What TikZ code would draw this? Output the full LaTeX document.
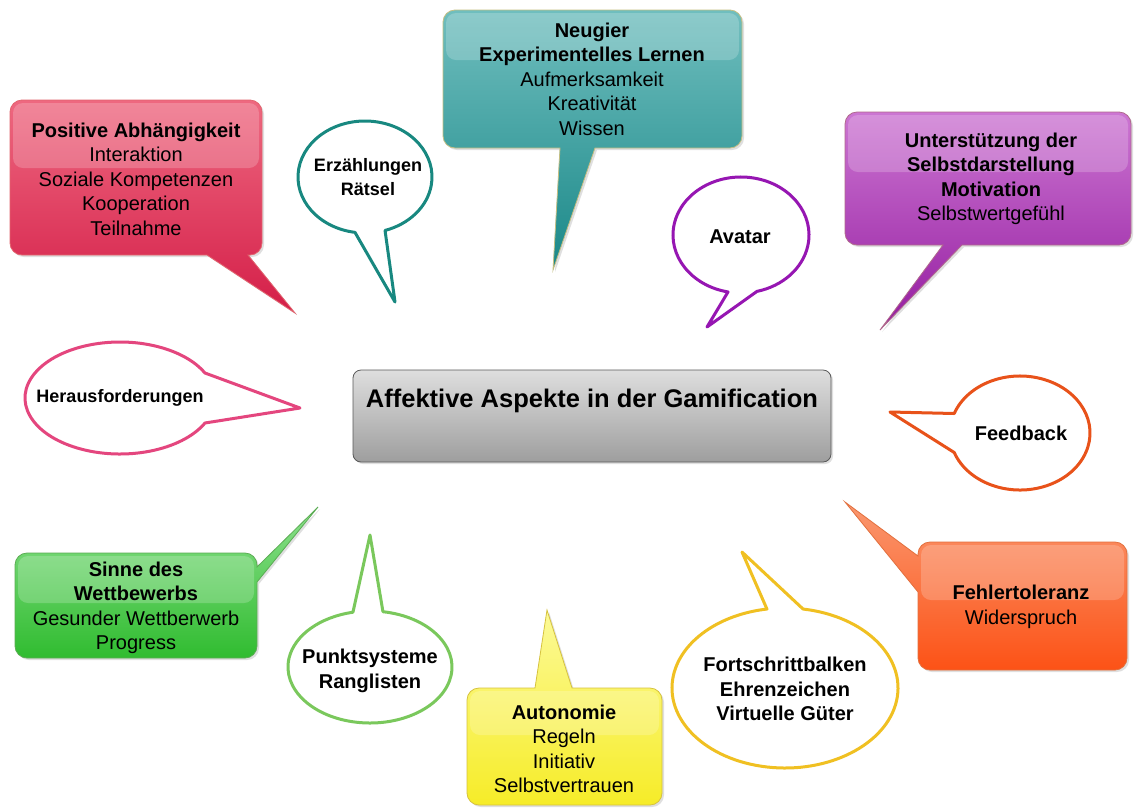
\documentclass[tikz,border=0pt]{standalone}
\usepackage{fontspec}
\setmainfont{Liberation Sans}
\usetikzlibrary{shadows}

\definecolor{redA}{RGB}{238,104,128}
\definecolor{redB}{RGB}{212,30,72}
\definecolor{redL}{RGB}{226,100,110}
\definecolor{tealA}{RGB}{112,190,190}
\definecolor{tealB}{RGB}{26,136,136}
\definecolor{tealL}{RGB}{196,190,130}
\definecolor{purA}{RGB}{204,118,210}
\definecolor{purB}{RGB}{148,28,160}
\definecolor{purL}{RGB}{176,106,140}
\definecolor{grnA}{RGB}{140,224,140}
\definecolor{grnB}{RGB}{48,188,48}
\definecolor{grnL}{RGB}{92,172,84}
\definecolor{orgA}{RGB}{250,152,112}
\definecolor{orgB}{RGB}{252,82,22}
\definecolor{orgL}{RGB}{226,112,62}
\definecolor{yelA}{RGB}{252,250,152}
\definecolor{yelB}{RGB}{246,236,40}
\definecolor{yelL}{RGB}{214,194,62}
\definecolor{gryA}{RGB}{222,222,222}
\definecolor{gryB}{RGB}{158,158,158}
\definecolor{tealline}{RGB}{24,136,128}
\definecolor{purline}{RGB}{150,22,178}
\definecolor{pinkline}{RGB}{228,70,126}
\definecolor{orgline}{RGB}{232,82,26}
\definecolor{grnline}{RGB}{122,200,92}
\definecolor{goldline}{RGB}{240,192,34}

\begin{document}
\begin{tikzpicture}[x=1pt,y=-1pt,
  box/.style={draw=#1,line width=.8pt,drop shadow={opacity=.25,shadow xshift=2pt,shadow yshift=-2pt}},
  gloss/.style={fill=white,opacity=.2,rounded corners=10pt},
  bub/.style={draw=#1,line width=3pt,fill=white,line join=round},
  txt/.style={align=center,font=\fontsize{20}{24.5}\selectfont},
  btxt/.style={align=center,font=\bfseries\fontsize{#1}{24.5}\selectfont},
  btxt/.default=20]
\useasboundingbox (0,0) rectangle (1136,807);
\fill[white] (0,0) rectangle (1136,807);

% centre
\path[box=black!65,top color=gryA,bottom color=gryB,rounded corners=8pt] (353,370) rectangle (831,462);
\node[font=\bfseries\fontsize{25.5}{30}\selectfont] (title) at (592,401) {Affektive Aspekte in der Gamification};

% filled boxes
\path[box=redL,top color=redA,bottom color=redB] (10,177) [rounded corners=12pt] -- (10,100) -- (262,100) -- (262,255) [sharp corners] -- (248,255) -- (295,313) -- (207,255) [rounded corners=12pt] -- (10,255) -- cycle;
\fill[gloss] (13,103) rectangle (259,168);
\node[txt] (abh) at (136,179) {\textbf{Positive Abhängigkeit}\\Interaktion\\Soziale Kompetenzen\\Kooperation\\Teilnahme};

\path[box=tealL,top color=tealA,bottom color=tealB] (443,79) [rounded corners=12pt] -- (443,10) -- (742,10) -- (742,148) [sharp corners] -- (595,148) -- (553,270) -- (560,148) [rounded corners=12pt] -- (443,148) -- cycle;
\fill[gloss] (446,13) rectangle (739,60);
\node[txt] (neu) at (592,79) {\textbf{Neugier}\\\textbf{Experimentelles Lernen}\\Aufmerksamkeit\\Kreativität\\Wissen};

\path[box=purL,top color=purA,bottom color=purB] (845,178) [rounded corners=12pt] -- (845,112) -- (1131,112) -- (1131,245) [sharp corners] -- (962,245) -- (880,330) -- (943,245) [rounded corners=12pt] -- (845,245) -- cycle;
\fill[gloss] (848,115) rectangle (1128,172);
\node[txt] (sel) at (991,179) {\textbf{Unterstützung der}\\\textbf{Selbstdarstellung}\\\textbf{Motivation}\\Selbstwertgefühl};

\path[box=grnL,top color=grnA,bottom color=grnB] (15,605) [rounded corners=12pt] -- (15,553) -- (257,553) [sharp corners] -- (257,567) -- (318,507) -- (257,582) [rounded corners=12pt] -- (257,658) -- (15,658) -- cycle;
\fill[gloss] (18,556) rectangle (254,603);
\node[txt] (wet) at (136,608) {\textbf{Sinne des}\\\textbf{Wettbewerbs}\\Gesunder Wettberwerb\\Progress};

\path[box=orgL,top color=orgA,bottom color=orgB] (1022,542) [rounded corners=12pt] -- (1127,542) -- (1127,670) -- (918,670) [sharp corners] -- (918,592) -- (845,502) -- (918,556) [rounded corners=12pt] -- (918,542) -- cycle;
\fill[gloss] (921,545) rectangle (1124,600);
\node[txt] (feh) at (1021,607) {\textbf{Fehlertoleranz}\\Widerspruch};

\path[box=yelL,top color=yelA,bottom color=yelB] (467,745) [rounded corners=12pt] -- (467,688) [sharp corners] -- (535,688) -- (547,610) -- (572,688) [rounded corners=12pt] -- (662,688) -- (662,805) -- (467,805) -- cycle;
\fill[gloss] (470,691) rectangle (659,735);
\node[txt] (aut) at (564,749) {\textbf{Autonomie}\\Regeln\\Initiativ\\Selbstvertrauen};

% speech bubbles
\foreach \cx/\cy/\rx/\ry/\sa/\ea/\px/\py/\col in {
  365/177/67/56/98.6/432.6/395/302/tealline,
  741/235/68/58/101/436.4/707/327/purline,
  120/398/95/56/26.5/333.5/300/408/pinkline,
  1020/433/70/57/200/520/890/412/orgline,
  370/667/82/56/279.1/618/370/535/grnline,
  785/688/113/80/279.2/620.8/742/552/goldline}
  \draw[bub=\col] (\cx,\cy) ++({\rx*cos(\sa)},{\ry*sin(\sa)}) arc[start angle=\sa,end angle=\ea,x radius=\rx,y radius=\ry] -- (\px,\py) -- cycle;

\node[btxt=18] (erz) at (368,177) {Erzählungen\\Rätsel};
\node[btxt] (ava) at (740,237) {Avatar};
\node[btxt=18] (her) at (120,398) {Herausforderungen};
\node[btxt] (fee) at (1021,433) {Feedback};
\node[btxt] (pun) at (370,671) {Punktsysteme\\Ranglisten};
\node[btxt] (fort) at (785,689) {Fortschrittbalken\\Ehrenzeichen\\Virtuelle Güter};
\end{tikzpicture}
\end{document}
